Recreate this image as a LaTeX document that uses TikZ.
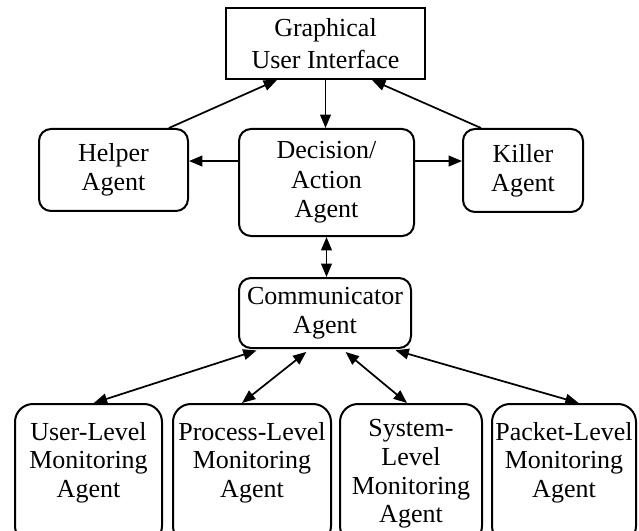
\documentclass[tikz,border=0pt]{standalone}
\usepackage{fontspec}
\setmainfont{Liberation Serif}
\usetikzlibrary{arrows.meta}

\tikzset{
  box/.style={draw, line width=1.5pt, align=center, inner sep=2pt,
    font=\fontsize{19.5}{22}\selectfont},
  gui/.style={box, minimum width=149.25pt, minimum height=53.25pt,
    font=\fontsize{19.5}{24}\selectfont},
  agent/.style={box, rounded corners=9pt},
  monitor/.style={box, rounded corners=13.5pt, anchor=north, minimum height=105pt,
    font=\fontsize{19.5}{21.5}\selectfont},
  link/.style={line width=1.3pt, -{Triangle[length=10pt,width=8pt]}},
  dlink/.style={line width=1.3pt, {Triangle[length=10pt,width=8pt]}-{Triangle[length=10pt,width=8pt]}},
}

\begin{document}
\begin{tikzpicture}[x=0.75pt,y=-0.75pt]
			%%%%% START %%%%%
			\useasboundingbox (0,0) rectangle (639,531);
			
			\node[gui] (gui) at (325.5,43.5) {Graphical\\User Interface};
			
			\node[agent, minimum width=111.75pt, minimum height=61.5pt] (helper) at (113.5,170) {Helper\\Agent};
			\node[agent, minimum width=131.25pt, minimum height=80.25pt] (decision) at (326.5,182.5) {Decision/\\Action\\Agent};
			\node[agent, minimum width=90pt, minimum height=62.25pt] (killer) at (523,170.5) {Killer\\Agent};
			
			\node[agent, minimum width=129pt, minimum height=52.5pt] (comm) at (325,313) {Communicator\\Agent};
			
			\node[monitor, minimum width=110.25pt] (user) at (88.5,403) {User-Level\\Monitoring\\Agent\\~};
			\node[monitor, minimum width=118.5pt] (process) at (252,403) {Process-Level\\Monitoring\\Agent\\~};
			\node[monitor, minimum width=106.5pt] (system) at (411,403) {System-\\Level\\Monitoring\\Agent};
			\node[monitor, minimum width=108pt] (packet) at (564,403) {Packet-Level\\Monitoring\\Agent\\~};
			
			\draw[link] ([xshift=41.6pt]helper.north) -- ([xshift=-36.4pt]gui.south);
			\draw[link] ([xshift=-31.5pt]killer.north) -- ([xshift=34.9pt]gui.south);
			\draw[link] (gui.south) -- (gui.south |- decision.north);
			
			\draw[link] ([yshift=16.1pt]decision.west) -- ([yshift=16.1pt]decision.west -| helper.east);
			\draw[link] ([yshift=16.1pt]decision.east) -- ([yshift=16.1pt]decision.east -| killer.west);
			
			\draw[dlink] (decision.south) -- (decision.south |- comm.north);
			
			\draw[dlink, shorten <=3.5pt] ([xshift=-48pt]comm.south) -- ([xshift=4pt]user.north);
			\draw[dlink, shorten <=3.5pt] ([xshift=-11.25pt]comm.south) -- ([xshift=-7.5pt]process.north);
			\draw[dlink, shorten <=3.5pt] ([xshift=12.75pt]comm.south) -- ([xshift=-3pt]system.north);
			\draw[dlink, shorten <=3.5pt] ([xshift=49.5pt]comm.south) -- ([xshift=11pt]packet.north);
			
			%%%%% END %%%%%
\end{tikzpicture}
\end{document}
